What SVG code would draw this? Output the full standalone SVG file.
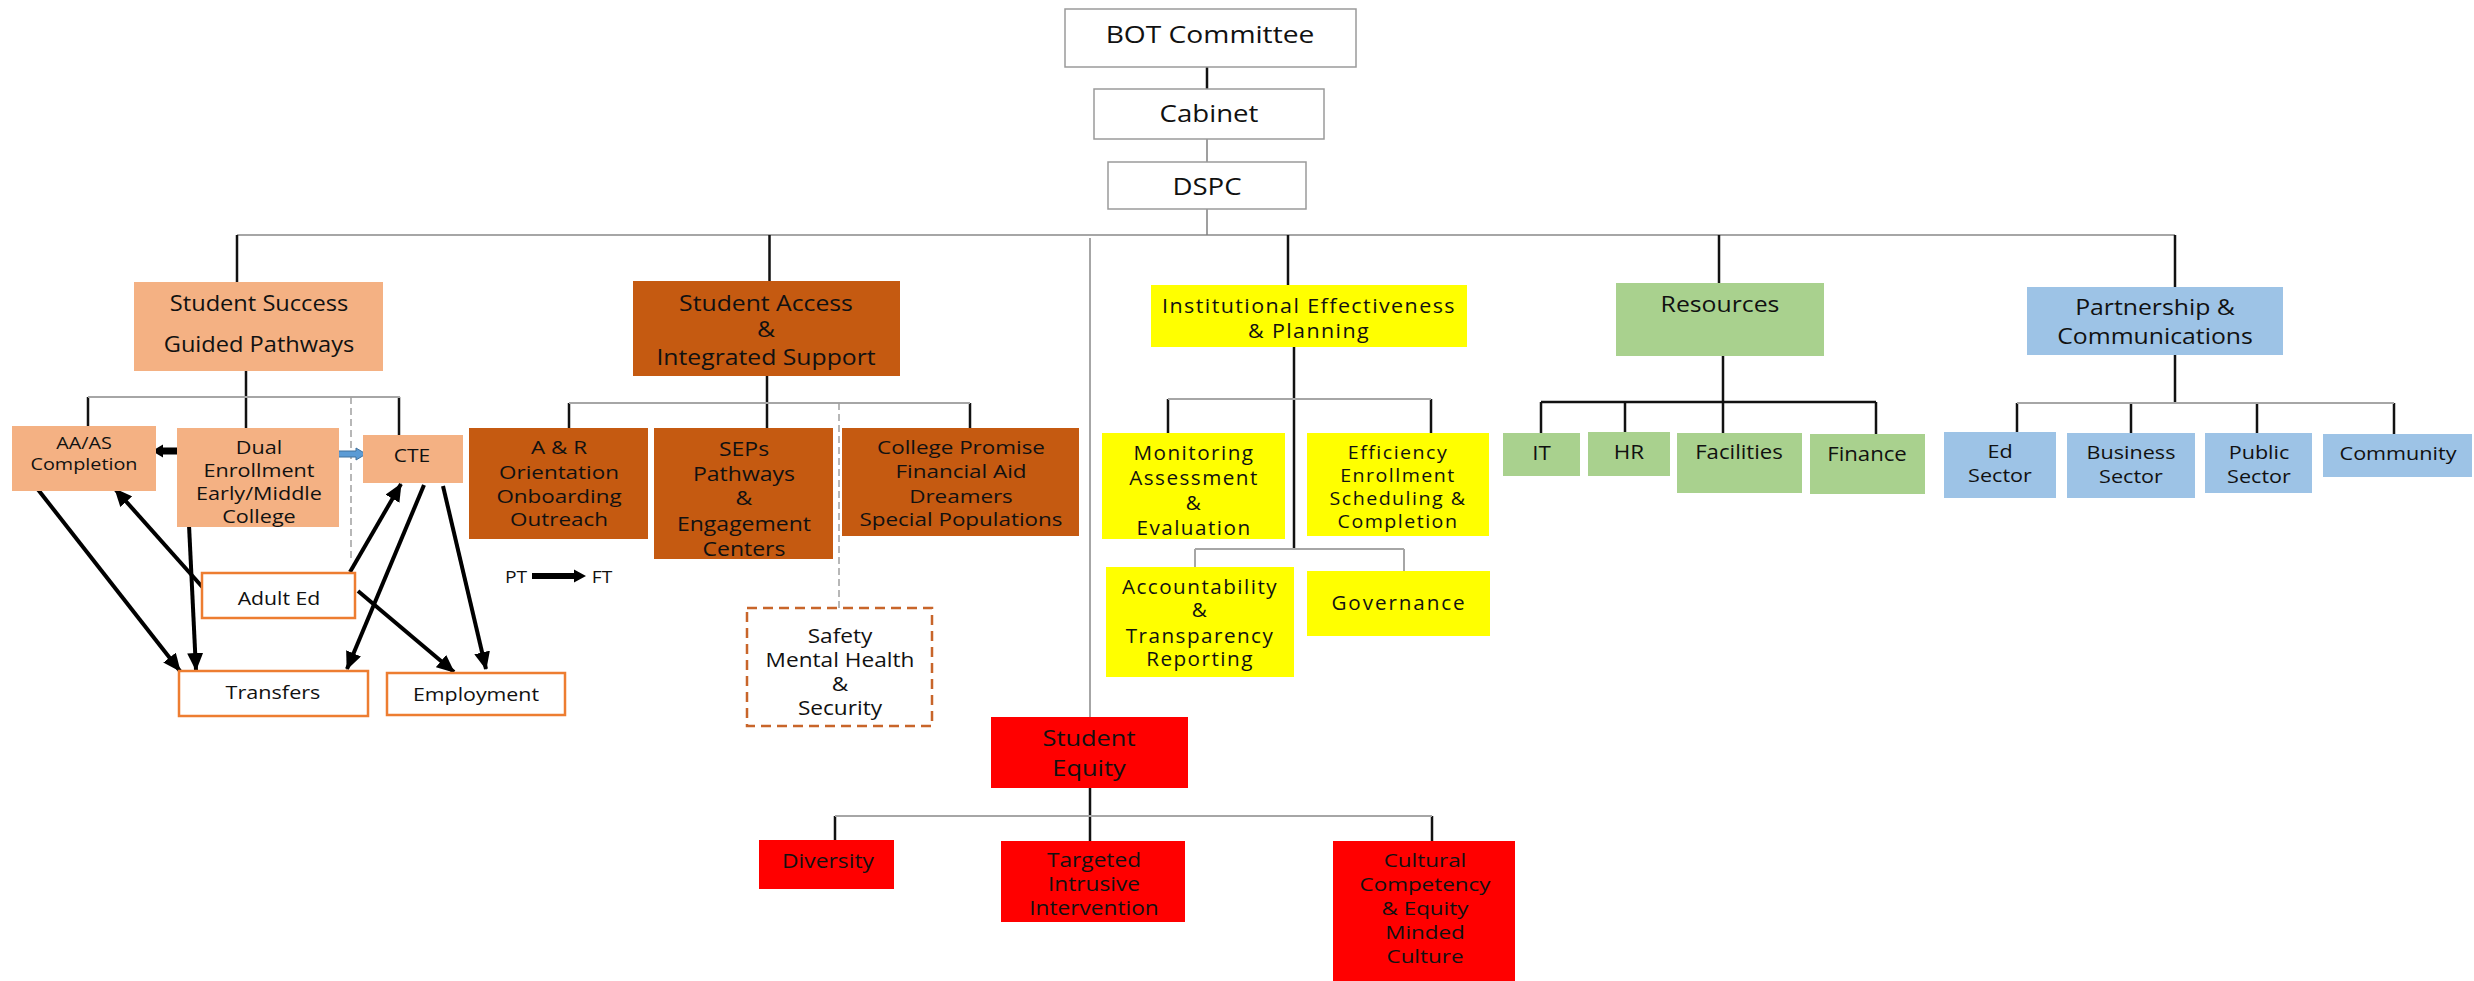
<svg xmlns="http://www.w3.org/2000/svg" width="2474" height="981" viewBox="0 0 2474 981">
<defs>
<style>
.t{font-family:"Open Sans","Noto Sans","Liberation Sans",sans-serif;fill:#111;text-anchor:middle;dominant-baseline:central}
.y{letter-spacing:1.4px}
.w{fill:#fff;stroke:#9a9a9a;stroke-width:1.5}
.lo{fill:#F4B183}
.do{fill:#C55A11}
.ye{fill:#FFFF00}
.gr{fill:#A9D18E}
.bl{fill:#9DC3E6}
.re{fill:#FF0000}
.ob{fill:#fff;stroke:#ED7D31;stroke-width:2.5}
.k{stroke:#111;stroke-width:2.5;fill:none}
.g{stroke:#a6a6a6;stroke-width:2;fill:none}
.gd{stroke:#a0a0a0;stroke-width:1.5;fill:none;stroke-dasharray:7 4}
.ar{stroke:#000;stroke-width:4;fill:none;marker-end:url(#ah)}
</style>
<marker id="ah" markerUnits="userSpaceOnUse" markerWidth="18" markerHeight="16" refX="17" refY="8" orient="auto">
<path d="M0,0 L18,8 L0,16 z" fill="#000"/>
</marker>
</defs>
<rect width="2474" height="981" fill="#fff"/>

<g id="connectors">
<path class="g" d="M237,235 H2175"/>
<path class="k" d="M1207,67 V89"/>
<path stroke="#808080" stroke-width="1.5" fill="none" d="M1207,139 V162 M1207,209 V235"/>
<path class="k" d="M237,235 V282 M769.5,235 V281 M1288,235 V285 M1719,235 V283 M2175,235 V287"/>
<path class="g" d="M1090,238 V717"/>
<path class="k" d="M246,371 V428 M88,397 V426 M399,397 V435"/>
<path class="g" d="M88,397 H400"/>
<path class="gd" d="M351,397 V562"/>
<path class="k" d="M767,376 V428 M569,403 V428 M970,403 V428"/>
<path class="g" d="M569,403 H970"/>
<path class="gd" d="M839,403 V608"/>
<path class="k" d="M1294,347 V549 M1168,399 V433 M1431,399 V433"/>
<path class="g" d="M1168,399 H1431 M1195,549 H1404 M1195,549 V567 M1404,549 V571"/>
<path class="k" d="M1723,356 V433 M1541,402 H1876 M1541,402 V433 M1625,402 V432 M1876,402 V434"/>
<path class="k" d="M2175,355 V403 M2017,403 V432 M2131,403 V433 M2257,403 V433 M2394,403 V434"/>
<path class="g" d="M2017,403 H2394"/>
<path class="k" d="M1090,788 V841 M835,816 V840 M1432,816 V841"/>
<path class="g" d="M835,816 H1432"/>
<path class="ar" d="M36,487 L180,671"/>
<path class="ar" d="M205,590 L115,489"/>
<path class="ar" d="M189,525 L196,670"/>
<path class="ar" d="M350,572 L401,484"/>
<path class="ar" d="M424,485 L347,669"/>
<path class="ar" d="M443,486 L486,669"/>
<path class="ar" d="M358,591 L454,672"/>
<polygon points="180,447.5 163,447.5 163,444.5 152,451 163,457.5 163,454.5 180,454.5" fill="#000"/>
<polygon points="335,451 356,451 356,448 366,454 356,460 356,457 335,457" fill="#5B9BD5" stroke="#41719C" stroke-width="1"/>
<polygon points="532,573 574,573 574,569.5 586,576 574,582.5 574,579 532,579" fill="#000"/>
</g>

<g id="bot"><rect class="w" x="1065" y="9" width="291" height="58"/><text class="t" transform="translate(1210 0) scale(1.2 1)" x="0" y="34" font-size="23.5">BOT Committee</text></g>
<g id="cabinet"><rect class="w" x="1094" y="89" width="230" height="50"/><text class="t" transform="translate(1209 0) scale(1.2 1)" x="0" y="113" font-size="23">Cabinet</text></g>
<g id="dspc"><rect class="w" x="1108" y="162" width="198" height="47"/><text class="t" transform="translate(1207 0) scale(1.2 1)" x="0" y="186" font-size="23">DSPC</text></g>

<g id="student-success"><rect class="lo" x="134" y="282" width="249" height="89"/><text class="t" transform="translate(259 0) scale(1.05 1)" font-size="22.5"><tspan x="0" y="302">Student Success</tspan><tspan x="0" y="343">Guided Pathways</tspan></text></g>
<g id="aa-as"><rect class="lo" x="12" y="426" width="144" height="65"/><text class="t" transform="translate(84 0) scale(1.2 1)" font-size="16.5"><tspan x="0" y="443">AA/AS</tspan><tspan x="0" y="464">Completion</tspan></text></g>
<g id="dual"><rect class="lo" x="177" y="428" width="162" height="99"/><text class="t" transform="translate(259 0) scale(1.2 1)" font-size="18"><tspan x="0" y="447">Dual</tspan><tspan x="0" y="470">Enrollment</tspan><tspan x="0" y="493">Early/Middle</tspan><tspan x="0" y="516">College</tspan></text></g>
<g id="cte"><rect class="lo" x="363" y="435" width="100" height="48"/><text class="t" transform="translate(412 0) scale(1.2 1)" x="0" y="455" font-size="17.5">CTE</text></g>
<g id="adult-ed"><rect class="ob" x="202" y="573" width="153" height="45"/><text class="t" transform="translate(279 0) scale(1.2 1)" x="0" y="598" font-size="17.7">Adult Ed</text></g>
<g id="transfers"><rect class="ob" x="179" y="671" width="189" height="45"/><text class="t" transform="translate(273 0) scale(1.2 1)" x="0" y="692" font-size="18">Transfers</text></g>
<g id="employment"><rect class="ob" x="387" y="673" width="178" height="42"/><text class="t" transform="translate(476 0) scale(1.2 1)" x="0" y="694" font-size="17.8">Employment</text></g>
<g id="pt-ft"><text class="t" transform="translate(516 0) scale(1.2 1)" x="0" y="577" font-size="16">PT</text><text class="t" transform="translate(602 0) scale(1.2 1)" x="0" y="577" font-size="16">FT</text></g>

<g id="student-access"><rect class="do" x="633" y="281" width="267" height="95"/><text class="t" transform="translate(766 0) scale(1.1 1)" font-size="22.5"><tspan x="0" y="302">Student Access</tspan><tspan x="0" y="328">&amp;</tspan><tspan x="0" y="356">Integrated Support</tspan></text></g>
<g id="a-r"><rect class="do" x="469" y="428" width="179" height="111"/><text class="t" transform="translate(559 0) scale(1.18 1)" font-size="19"><tspan x="0" y="447">A &amp; R</tspan><tspan x="0" y="472">Orientation</tspan><tspan x="0" y="496">Onboarding</tspan><tspan x="0" y="519">Outreach</tspan></text></g>
<g id="seps"><rect class="do" x="654" y="428" width="179" height="131"/><text class="t" transform="translate(744 0) scale(1.18 1)" font-size="19.5"><tspan x="0" y="448">SEPs</tspan><tspan x="0" y="473">Pathways</tspan><tspan x="0" y="497">&amp;</tspan><tspan x="0" y="523">Engagement</tspan><tspan x="0" y="548">Centers</tspan></text></g>
<g id="college-promise"><rect class="do" x="842" y="428" width="237" height="108"/><text class="t" transform="translate(961 0) scale(1.18 1)" font-size="19"><tspan x="0" y="447">College Promise</tspan><tspan x="0" y="471">Financial Aid</tspan><tspan x="0" y="496">Dreamers</tspan><tspan x="0" y="519">Special Populations</tspan></text></g>
<g id="safety"><rect x="747" y="608" width="185" height="118" fill="#fff" stroke="#C8652A" stroke-width="2.5" stroke-dasharray="10 6"/><text class="t" transform="translate(840 0) scale(1.18 1)" font-size="19.2"><tspan x="0" y="636">Safety</tspan><tspan x="0" y="660">Mental Health</tspan><tspan x="0" y="684">&amp;</tspan><tspan x="0" y="708">Security</tspan></text></g>

<g id="ie"><rect class="ye" x="1151" y="285" width="316" height="62"/><text class="t" transform="translate(1309 0) scale(1.1 1)" font-size="19.5" letter-spacing="1.3"><tspan x="0" y="305">Institutional Effectiveness</tspan><tspan x="0" y="330">&amp; Planning</tspan></text></g>
<g id="monitoring"><rect class="ye" x="1102" y="433" width="183" height="106"/><text class="t y" transform="translate(1194 0) scale(1.06 1)" font-size="19.5"><tspan x="0" y="452">Monitoring</tspan><tspan x="0" y="477">Assessment</tspan><tspan x="0" y="502">&amp;</tspan><tspan x="0" y="527">Evaluation</tspan></text></g>
<g id="efficiency"><rect class="ye" x="1307" y="433" width="182" height="103"/><text class="t y" transform="translate(1398 0) scale(1.06 1)" font-size="18.5"><tspan x="0" y="452">Efficiency</tspan><tspan x="0" y="475">Enrollment</tspan><tspan x="0" y="498">Scheduling &amp;</tspan><tspan x="0" y="521">Completion</tspan></text></g>
<g id="accountability"><rect class="ye" x="1106" y="567" width="188" height="110"/><text class="t y" transform="translate(1200 0) scale(1.06 1)" font-size="19.5"><tspan x="0" y="586">Accountability</tspan><tspan x="0" y="609">&amp;</tspan><tspan x="0" y="635">Transparency</tspan><tspan x="0" y="658">Reporting</tspan></text></g>
<g id="governance"><rect class="ye" x="1307" y="571" width="183" height="65"/><text class="t" transform="translate(1399 0) scale(1.06 1)" x="0" y="603" font-size="19.5" letter-spacing="1.8">Governance</text></g>

<g id="resources"><rect class="gr" x="1616" y="283" width="208" height="73"/><text class="t" transform="translate(1720 0) scale(1.18 1)" x="0" y="304" font-size="21">Resources</text></g>
<g id="it"><rect class="gr" x="1503" y="433" width="77" height="43"/><text class="t" transform="translate(1541.5 0) scale(1.15 1)" x="0" y="453" font-size="19.5">IT</text></g>
<g id="hr"><rect class="gr" x="1588" y="432" width="82" height="44"/><text class="t" transform="translate(1629 0) scale(1.15 1)" x="0" y="452" font-size="19.5">HR</text></g>
<g id="facilities"><rect class="gr" x="1677" y="433" width="125" height="60"/><text class="t" transform="translate(1739 0) scale(1.15 1)" x="0" y="452" font-size="19.3">Facilities</text></g>
<g id="finance"><rect class="gr" x="1810" y="434" width="115" height="60"/><text class="t" transform="translate(1867 0) scale(1.15 1)" x="0" y="454" font-size="19.3">Finance</text></g>

<g id="partnership"><rect class="bl" x="2027" y="287" width="256" height="68"/><text class="t" transform="translate(2155 0) scale(1.18 1)" font-size="21"><tspan x="0" y="307">Partnership &amp;</tspan><tspan x="0" y="336">Communications</tspan></text></g>
<g id="ed-sector"><rect class="bl" x="1944" y="432" width="112" height="66"/><text class="t" transform="translate(2000 0) scale(1.18 1)" font-size="18.3"><tspan x="0" y="451">Ed</tspan><tspan x="0" y="475">Sector</tspan></text></g>
<g id="business-sector"><rect class="bl" x="2067" y="433" width="128" height="65"/><text class="t" transform="translate(2131 0) scale(1.18 1)" font-size="18.3"><tspan x="0" y="452">Business</tspan><tspan x="0" y="476">Sector</tspan></text></g>
<g id="public-sector"><rect class="bl" x="2205" y="433" width="107" height="60"/><text class="t" transform="translate(2259 0) scale(1.18 1)" font-size="18.3"><tspan x="0" y="452">Public</tspan><tspan x="0" y="476">Sector</tspan></text></g>
<g id="community"><rect class="bl" x="2323" y="434" width="149" height="43"/><text class="t" transform="translate(2398 0) scale(1.18 1)" x="0" y="453" font-size="18.3">Community</text></g>

<g id="student-equity"><rect class="re" x="991" y="717" width="197" height="71"/><text class="t" transform="translate(1089 0) scale(1.18 1)" font-size="21.5"><tspan x="0" y="738">Student</tspan><tspan x="0" y="768">Equity</tspan></text></g>
<g id="diversity"><rect class="re" x="759" y="840" width="135" height="49"/><text class="t" transform="translate(828 0) scale(1.18 1)" x="0" y="860" font-size="19.3">Diversity</text></g>
<g id="targeted"><rect class="re" x="1001" y="841" width="184" height="81"/><text class="t" transform="translate(1094 0) scale(1.18 1)" font-size="19.2"><tspan x="0" y="860">Targeted</tspan><tspan x="0" y="884">Intrusive</tspan><tspan x="0" y="908">Intervention</tspan></text></g>
<g id="cultural"><rect class="re" x="1333" y="841" width="182" height="140"/><text class="t" transform="translate(1425 0) scale(1.18 1)" font-size="19"><tspan x="0" y="860">Cultural</tspan><tspan x="0" y="884">Competency</tspan><tspan x="0" y="908">&amp; Equity</tspan><tspan x="0" y="932">Minded</tspan><tspan x="0" y="956">Culture</tspan></text></g>
</svg>
